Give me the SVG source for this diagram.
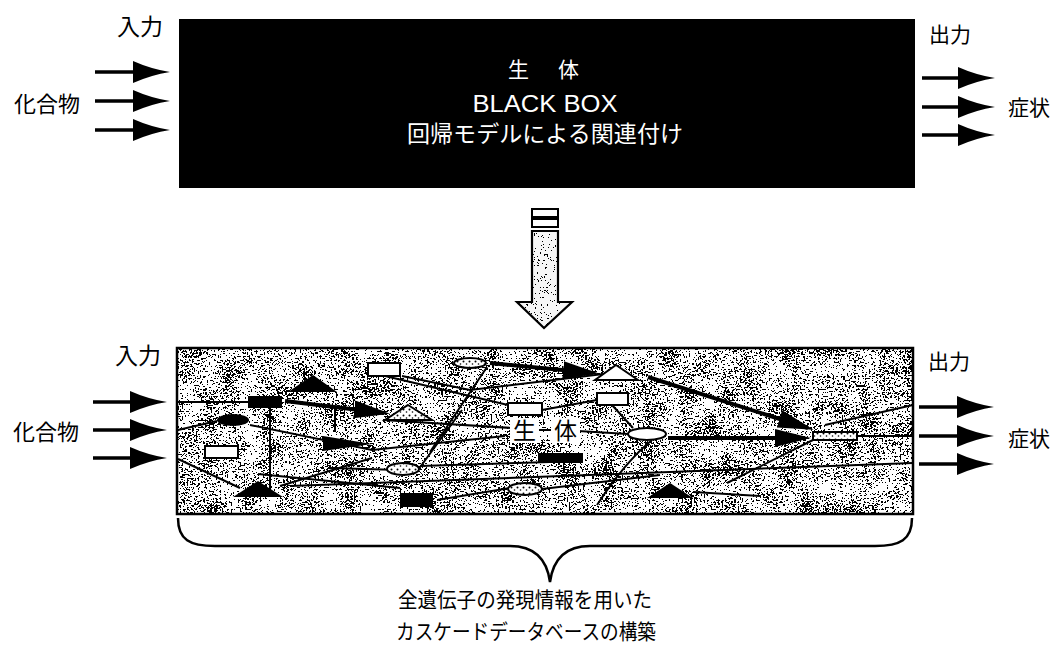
<svg xmlns="http://www.w3.org/2000/svg" width="1059" height="645" viewBox="0 0 1059 645">
<style>
.jp{font-family:"Noto Sans CJK JP","Noto Sans",sans-serif;fill:#000}
.wt{font-family:"Noto Sans CJK JP","Liberation Sans",sans-serif;fill:#fff}
.io{stroke:#000;stroke-width:3.5;fill:none;marker-end:url(#head)}
.net{stroke:#000;stroke-width:2;fill:none}
.thick{stroke:#000;stroke-width:4;fill:none;marker-end:url(#bighead)}
.wbox{fill:#fff;stroke:#000;stroke-width:2}
.hatch{fill:url(#dots);stroke:#000;stroke-width:2}
.blk{fill:#000}
</style>
<defs>
<marker id="head" markerUnits="userSpaceOnUse" markerWidth="38" markerHeight="24" refX="2" refY="11" orient="auto">
<path d="M0,0 Q18,8 37,11 Q18,14 0,22 z" fill="#000"/>
</marker>
<marker id="bighead" markerUnits="userSpaceOnUse" markerWidth="38" markerHeight="20" refX="30" refY="9" orient="auto">
<path d="M0,0 L36,9 L0,18 z" fill="#000"/>
</marker>
<pattern id="dots" width="6" height="6" patternUnits="userSpaceOnUse">
<rect width="6" height="6" fill="#fff"/>
<circle cx="1.5" cy="1.5" r="1" fill="#000"/>
<circle cx="4.5" cy="4" r="0.8" fill="#000"/>
</pattern>
<filter id="grain" x="0" y="0" width="1" height="1">
<feTurbulence type="fractalNoise" baseFrequency="0.55" numOctaves="2" seed="11" result="f"/>
<feColorMatrix in="f" type="matrix" values="0 0 0 0 0  0 0 0 0 0  0 0 0 0 0  1 0 0 0 0" result="fa"/>
<feTurbulence type="fractalNoise" baseFrequency="0.05" numOctaves="3" seed="5" result="c"/>
<feColorMatrix in="c" type="matrix" values="0 0 0 0 0  0 0 0 0 0  0 0 0 0 0  1 0 0 0 0" result="ca"/>
<feComposite in="fa" in2="ca" operator="arithmetic" k1="0" k2="2.4" k3="1.0" k4="-1.15" result="m"/>
<feComponentTransfer in="m"><feFuncA type="discrete" tableValues="0 0 0 0 0 0 1 1"/></feComponentTransfer>
</filter>
<filter id="grainLight" x="0" y="0" width="1" height="1">
<feTurbulence type="fractalNoise" baseFrequency="0.7" numOctaves="2" seed="3" result="t"/>
<feColorMatrix in="t" type="matrix" values="0 0 0 0 0  0 0 0 0 0  0 0 0 0 0  2.4 0 0 0 -0.7"/>
<feComponentTransfer><feFuncA type="discrete" tableValues="0 0 0 0 0 0 0 0 0 0 0 1"/></feComponentTransfer>
</filter>
<clipPath id="arrowClip"><path d="M532,231 H558 V302 H572 L544,328 L517,302 H532 Z"/></clipPath>
</defs>

<g id="node-blackbox">
<rect x="179" y="19" width="736" height="169" fill="#000"/>
<text class="wt" x="508" y="77" font-size="21">生</text>
<text class="wt" x="558" y="77" font-size="21">体</text>
<text class="wt" x="545" y="112" font-size="23" text-anchor="middle" textLength="145" lengthAdjust="spacingAndGlyphs" style="font-family:'Liberation Sans',sans-serif">BLACK BOX</text>
<text class="wt" x="545" y="142" font-size="23" text-anchor="middle" textLength="276" lengthAdjust="spacingAndGlyphs">回帰モデルによる関連付け</text>
</g>

<g id="label-in-top"><text class="jp" x="117" y="35" font-size="23">入力</text></g>
<g id="label-cmp-top"><text class="jp" x="14" y="112" font-size="22">化合物</text></g>
<g id="label-out-top"><text class="jp" x="929" y="42" font-size="21">出力</text></g>
<g id="label-sym-top"><text class="jp" x="1008" y="115" font-size="21">症状</text></g>

<g id="node-transition">
<rect x="532" y="209" width="26" height="8" fill="#fff" stroke="#000" stroke-width="2"/>
<rect x="532" y="219" width="26" height="8" fill="#fff" stroke="#000" stroke-width="2"/>
<path d="M532,231 H558 V302 H572 L544,328 L517,302 H532 Z" fill="#f6f6f6"/>
<rect x="515" y="229" width="60" height="100" fill="#000" filter="url(#grainLight)" clip-path="url(#arrowClip)"/>
<path d="M532,231 H558 V302 H572 L544,328 L517,302 H532 Z" fill="none" stroke="#000" stroke-width="2.2"/>
</g>

<g id="node-cascade">
<rect x="177" y="348" width="736" height="166" fill="#fff"/>
<rect x="177" y="348" width="736" height="166" fill="#000" filter="url(#grain)"/>
<path class="net" d="M178,402 L248,402"/>
<path class="net" d="M178,430 L217,421"/>
<path class="net" d="M178,459 L240,488"/>
<path class="net" d="M250,425 L372,450 L505,436"/>
<path class="net" d="M270,408 V490"/>
<path class="net" d="M335,406 V432"/>
<path class="net" d="M280,486 L372,458"/>
<path class="net" d="M258,474 L400,488"/>
<path class="net" d="M330,468 L400,470"/>
<path class="net" d="M385,376 L508,405"/>
<path class="net" d="M402,376 L470,390 L620,372"/>
<path class="net" d="M487,367 L430,452"/>
<path class="net" d="M462,410 L418,470"/>
<path class="net" d="M383,420 L512,428"/>
<path class="net" d="M420,466 L550,462"/>
<path class="net" d="M437,500 L510,488"/>
<path class="net" d="M542,410 L597,400"/>
<path class="net" d="M537,430 L553,430"/>
<path class="net" d="M578,431 L628,434"/>
<path class="net" d="M612,405 L633,428"/>
<path class="net" d="M652,440 Q625,462 597,505"/>
<path class="net" d="M290,486 L913,463"/>
<path class="net" d="M542,489 L660,475"/>
<path class="net" d="M727,483 L813,440"/>
<path class="net" d="M857,436 L913,436"/>
<path class="net" d="M825,425 L913,405"/>
<path class="net" d="M693,492 L760,496"/>
<path class="thick" d="M285,401 L384,413"/>
<path class="thick" d="M490,363 L593,373"/>
<path class="thick" d="M648,377 L808,428"/>
<path class="thick" d="M668,438 L805,438"/>
<polygon class="blk" points="313,375 337,392 288,392"/>
<rect class="blk" x="248" y="396" width="34" height="12"/>
<ellipse class="blk" cx="233" cy="420" rx="16" ry="6"/>
<rect class="wbox" x="205" y="446" width="33" height="12"/>
<polygon class="blk" points="258,481 283,497 233,497"/>
<polygon class="blk" points="323,436 372,444 323,451"/>
<rect class="wbox" x="368" y="363" width="32" height="13"/>
<ellipse class="hatch" cx="470" cy="363" rx="16" ry="5"/>
<polygon points="408,405 432,420 385,420" fill="url(#dots)" stroke="#000" stroke-width="2"/>
<ellipse class="hatch" cx="403" cy="469" rx="16" ry="6"/>
<rect class="blk" x="400" y="493" width="33" height="14"/>
<rect class="wbox" x="508" y="403" width="34" height="12"/>
<rect class="wbox" x="597" y="393" width="31" height="12"/>
<polygon points="616,365 638,380 595,380" fill="#fff" stroke="#000" stroke-width="2"/>
<rect x="510" y="418" width="29" height="25" fill="#fff"/>
<rect x="551" y="418" width="29" height="25" fill="#fff"/>
<text class="jp" x="513" y="439" font-size="23">生</text>
<text class="jp" x="554" y="439" font-size="23">体</text>
<ellipse class="wbox" cx="647" cy="434" rx="19" ry="6"/>
<rect class="blk" x="538" y="453" width="45" height="10"/>
<ellipse class="hatch" cx="525" cy="489" rx="17" ry="6"/>
<polygon class="blk" points="670,483 693,498 647,498"/>
<rect x="813" y="432" width="44" height="8" fill="url(#dots)" stroke="#000" stroke-width="2"/>
<rect x="177" y="348" width="736" height="166" fill="none" stroke="#000" stroke-width="2.5"/>
</g>

<g id="label-in-bot"><text class="jp" x="115" y="364" font-size="23">入力</text></g>
<g id="label-cmp-bot"><text class="jp" x="13" y="440" font-size="22">化合物</text></g>
<g id="label-out-bot"><text class="jp" x="928" y="369" font-size="21">出力</text></g>
<g id="label-sym-bot"><text class="jp" x="1008" y="446" font-size="21">症状</text></g>

<g id="connectors">
<path class="io" d="M95,72 H135"/>
<path class="io" d="M95,101 H135"/>
<path class="io" d="M95,130 H135"/>
<path class="io" d="M922,78 H960"/>
<path class="io" d="M922,107 H960"/>
<path class="io" d="M922,135 H960"/>
<path class="io" d="M93,402 H132"/>
<path class="io" d="M93,430 H132"/>
<path class="io" d="M93,458 H132"/>
<path class="io" d="M919,407 H959"/>
<path class="io" d="M919,436 H959"/>
<path class="io" d="M919,464 H959"/>
</g>

<g id="brace">
<path d="M178,518 C178,540 190,546 215,546 L510,546 C535,546 547,560 550,582 C553,560 565,546 590,546 L875,546 C900,546 912,540 912,518" fill="none" stroke="#000" stroke-width="2.5"/>
</g>
<g id="label-caption">
<text class="jp" x="398" y="607" font-size="21" textLength="254" lengthAdjust="spacingAndGlyphs">全遺伝子の発現情報を用いた</text>
<text class="jp" x="396" y="639" font-size="21" textLength="260" lengthAdjust="spacingAndGlyphs">カスケードデータベースの構築</text>
</g>
</svg>
